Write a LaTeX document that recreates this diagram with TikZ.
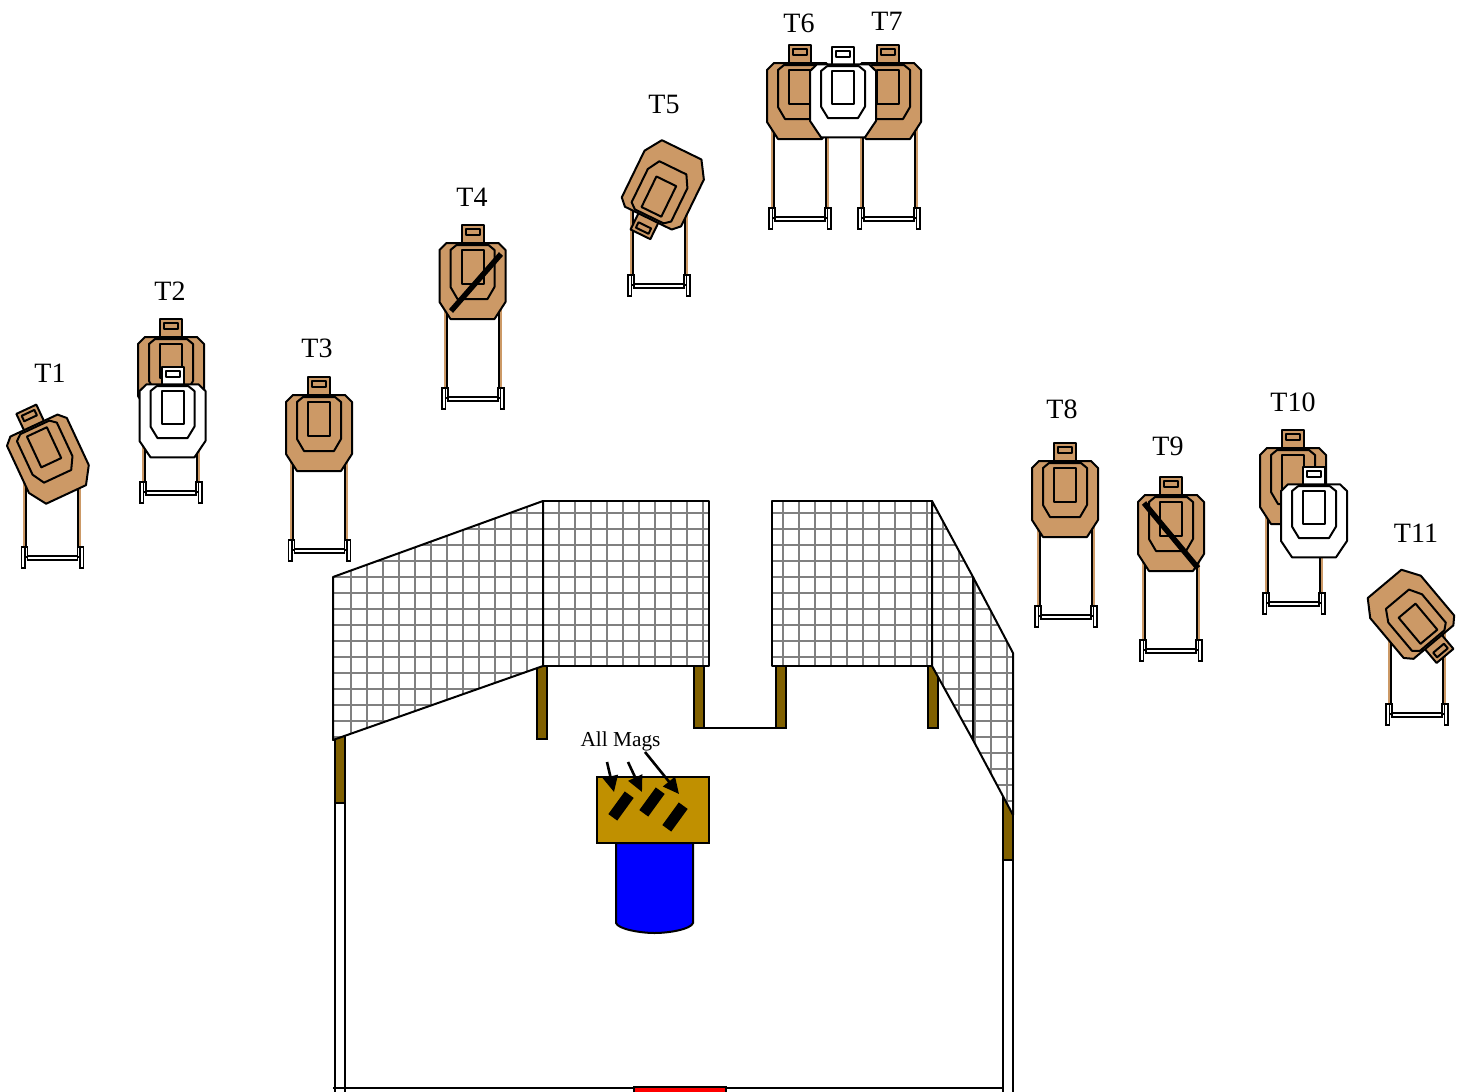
\documentclass[tikz,border=0pt]{standalone}
\usepackage{fontspec}
\setmainfont{Liberation Serif}
\usetikzlibrary{arrows.meta}
\definecolor{mTan}{HTML}{CC9966}
\definecolor{mGold}{HTML}{C09000}
\definecolor{mPost}{HTML}{806000}
\definecolor{mGrid}{HTML}{808080}

% one target, centre of the body at #1,#2, turned by #3, filled with #4, squeezed by #5
\newcommand{\drawtarget}[5]{
  \begin{scope}[shift={(#1,#2)}, rotate=#3, yscale=#5, tgtline, fill=#4]
    \filldraw (-11,-56) rectangle (11,-36);
    \filldraw (-33,-31) -- (-26,-38) -- (26,-38) -- (33,-31) -- (33,21) -- (22,38)
      -- (-22,38) -- (-33,21) -- cycle;
    \draw (-22,-31) -- (-22,6) -- (-15,18) -- (15,18) -- (22,6) -- (22,-31) -- (16,-36) -- (-16,-36) -- cycle;
    \draw (-11,-31) rectangle (11,3);
    \draw (-7,-52) rectangle (7,-46);
  \end{scope}
}
% one stand, middle of the feet at #1, lower end at #2
\newcommand{\drawstand}[2]{
  \begin{scope}[shift={(#1,#2)}]
    \fill[mTan] (-29.5,-100) rectangle (-27,-12);
    \fill[mTan] (26,-100) rectangle (28.5,-12);
    \draw[line width=2] (-26.5,-100) -- (-26.5,-12);
    \draw[line width=2] (25.5,-100) -- (25.5,-12);
    \draw[standline, fill=white] (-25,-12) rectangle (25,-8);
    \draw[standline, fill=white] (-31,-21) rectangle (-27.5,0);
    \draw[standline, fill=white] (27.5,-21) rectangle (31,0);
    \draw[standline, fill=white] (-27.5,-21) rectangle (-25,-11);
    \draw[standline, fill=white] (25,-21) rectangle (27.5,-11);
  \end{scope}
}

\begin{document}
\begin{tikzpicture}[
  x=1pt, y=-1pt,
  tgtline/.style={draw=black, line width=2, line join=round},
  standline/.style={draw=black, line width=1.5},
  tlabel/.style={font=\fontsize{28}{30}\selectfont},
  fence/.style={draw=black, line width=2, fill=white, line join=round},
  post/.style={draw=black, line width=2, fill=mPost},
  whitepost/.style={draw=black, line width=2, fill=white},
  magbox/.style={fill=black, minimum width=28pt, minimum height=11pt, inner sep=0pt, rotate=54},
  magarrow/.style={line width=2.6, -{Triangle[length=16pt,width=15pt]}},
]
  \useasboundingbox (0,0) rectangle (1465,1092);

  % stands
  \foreach \x/\y in {52.5/568, 171/503, 319.5/561, 473/409, 659/296, 800/229, 889/229,
                     1066/627, 1171/661, 1294/614, 1417/725}
    \drawstand{\x}{\y};

  % targets
  \foreach \x/\y/\r in {50/460/25, 171/375/0, 319/433/0, 472.5/281/0, 665/184/154,
                        800/101/0, 888/101/0, 1065/499/0, 1171/533/0, 1293/486/0, 1409/613/-140}
    \drawtarget{\x}{\y}{\r}{mTan}{1};
  \foreach \x/\y in {172.5/420.8, 843/100.8, 1314/520.8}
    \drawtarget{\x}{\y}{0}{white}{0.96};

  % hard cover lines
  \draw[line width=5.5] (451,311) -- (501,254);
  \draw[line width=5.5] (1144,503) -- (1198,568);

  \foreach \n/\x/\y in {1/50/373, 2/170/291, 3/317/348, 4/472/197, 5/664/104, 6/799/23,
                        7/887/21, 8/1062/409, 9/1168/446, 10/1293/402, 11/1416/533}
    \node[tlabel] (t\n) at (\x,\y) {T\n};

  % uprights
  \draw[whitepost] (335,800) rectangle (345,1094);
  \draw[whitepost] (1003,858) rectangle (1013,1094);
  \draw[post] (335,730) rectangle (345,803);
  \draw[post] (1003,790) rectangle (1013,860);
  \draw[post] (537,660) rectangle (547,739);
  \draw[post] (694,660) rectangle (704,728);
  \draw[post] (776,660) rectangle (786,728);
  \draw[post] (928,660) rectangle (938,728);
  \draw[line width=2] (704,728) -- (776,728);

  % mesh
  \fill[white] (333,577) -- (543,501) -- (543,666) -- (333,740) -- cycle;
  \fill[white] (543,501) rectangle (709,666);
  \fill[white] (772,501) rectangle (932,666);
  \fill[white] (932,501) -- (1013,653) -- (1013,815) -- (932,666) -- cycle;
  \begin{scope}
    \clip (333,577) -- (543,501) -- (543,666) -- (333,740) -- cycle
      (543,501) rectangle (709,666)
      (772,501) rectangle (932,666)
      (932,501) -- (1013,653) -- (1013,815) -- (932,666) -- cycle;
    \foreach \k in {0,...,41}
      \draw[mGrid, line width=1.6] (351+16*\k,495) -- (351+16*\k,820);
    \foreach \k in {0,...,18}
      \draw[mGrid, line width=1.6] (330,512.7+16*\k) -- (1016,512.7+16*\k);
  \end{scope}
  \draw[fence, fill=none] (333,577) -- (543,501) -- (543,666) -- (333,740) -- cycle;
  \draw[fence, fill=none] (543,501) rectangle (709,666);
  \draw[fence, fill=none] (772,501) rectangle (932,666);
  \draw[fence, fill=none] (932,501) -- (973,577) -- (973,740) -- (932,666) -- cycle;
  \draw[fence, fill=none] (973,577) -- (1013,653) -- (1013,815) -- (973,740) -- cycle;

  % table with the barrel below
  \draw[line width=2, fill=blue] (616,843) -- (616,923)
    .. controls (618,929) and (640,933) .. (654.5,933)
    .. controls (670,933) and (691,929) .. (693,923) -- (693,843) -- cycle;
  \node[draw=black, line width=2, fill=mGold, minimum width=112pt, minimum height=66pt,
        inner sep=0pt] (table) at (653,810) {};
  \node[magbox] (mag1) at (621,806) {};
  \node[magbox] (mag2) at (652,802) {};
  \node[magbox] (mag3) at (675,817) {};

  \node[font=\fontsize{21.3}{24}\selectfont] (allmags) at (620.5,741) {All Mags};
  \coordinate (from1) at (607,762);
  \coordinate (from2) at (628,762);
  \coordinate (from3) at (645,752);
  \coordinate (tip1) at (614,792);
  \coordinate (tip2) at (642,792);
  \coordinate (tip3) at (679,794);
  \draw[magarrow] (from1) -- (tip1);
  \draw[magarrow] (from2) -- (tip2);
  \draw[magarrow] (from3) -- (tip3);

  % back wall
  \draw[line width=2] (333,1087.5) -- (1003,1087.5);
  \draw[line width=2, fill=red] (634,1094) rectangle (726,1087);
\end{tikzpicture}
\end{document}
